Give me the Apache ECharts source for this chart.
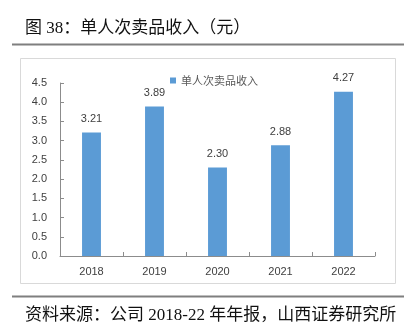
<!DOCTYPE html>
<html><head><meta charset="utf-8">
<script src="https://cdn.jsdelivr.net/npm/echarts@6/dist/echarts.min.js"></script>
<style>html,body{margin:0;padding:0;background:#fff}#c{width:414px;height:326px}</style>
</head><body><div id="c"></div>
<script>
const categories = ['2018','2019','2020','2021','2022'];
const seriesName = '单人次卖品收入';
const values = [3.21, 3.89, 2.30, 2.88, 4.27];
const titleText = '图 38：单人次卖品收入（元）';
const sourceText = '资料来源：公司 2018-22 年年报，山西证券研究所';

const chart = echarts.init(document.getElementById('c'), null, {renderer:'canvas'});
chart.setOption({
  animation:false,
  backgroundColor:'#fff',
  title:[
    {text:titleText,left:20,top:15,textStyle:{fontFamily:'Liberation Serif, Noto Sans CJK SC',fontSize:17,fontWeight:'normal',color:'#111'}},
    {text:sourceText,left:20,top:302,textStyle:{fontFamily:'Liberation Serif, Noto Sans CJK SC',fontSize:17,fontWeight:'normal',color:'#111'}}
  ],
  graphic:[
    {type:'line',shape:{x1:12,y1:44.5,x2:404,y2:44.5},style:{stroke:'#7f7f7f',lineWidth:2}},
    {type:'line',shape:{x1:12,y1:296.5,x2:404,y2:296.5},style:{stroke:'#7f7f7f',lineWidth:2}},
    {type:'rect',shape:{x:20.5,y:58.5,width:375,height:225},style:{fill:'none',stroke:'#d9d9d9',lineWidth:1}}
  ],
  legend:{top:70,left:165,itemWidth:6,itemHeight:6,itemGap:4,icon:'rect',
    textStyle:{fontFamily:'Noto Sans CJK SC',fontSize:11,color:'#595959'},data:[seriesName]},
  grid:{left:60,right:39,top:83,bottom:70},
  xAxis:{type:'category',data:categories,
    axisLine:{lineStyle:{color:'#8c8c8c'}},
    axisTick:{show:true,length:4,inside:true,lineStyle:{color:'#8c8c8c'}},
    axisLabel:{fontFamily:'Liberation Sans, Arial',fontSize:11,color:'#404040',margin:10}},
  yAxis:{type:'value',min:0,max:4.5,interval:0.5,
    axisLine:{show:true,lineStyle:{color:'#8c8c8c'}},
    axisTick:{show:true,length:4,inside:true,lineStyle:{color:'#8c8c8c'}},
    splitLine:{show:false},
    axisLabel:{fontFamily:'Liberation Sans, Arial',fontSize:11,color:'#404040',margin:13,
      formatter:v=>v.toFixed(1)}},
  series:[{name:seriesName,type:'bar',data:values,barWidth:'30%',
    itemStyle:{color:'#5b9bd5'},
    label:{show:true,position:'top',distance:8,fontFamily:'Liberation Sans, Arial',fontSize:11,color:'#404040',
      formatter:p=>p.value.toFixed(2)}}]
});
</script></body></html>
